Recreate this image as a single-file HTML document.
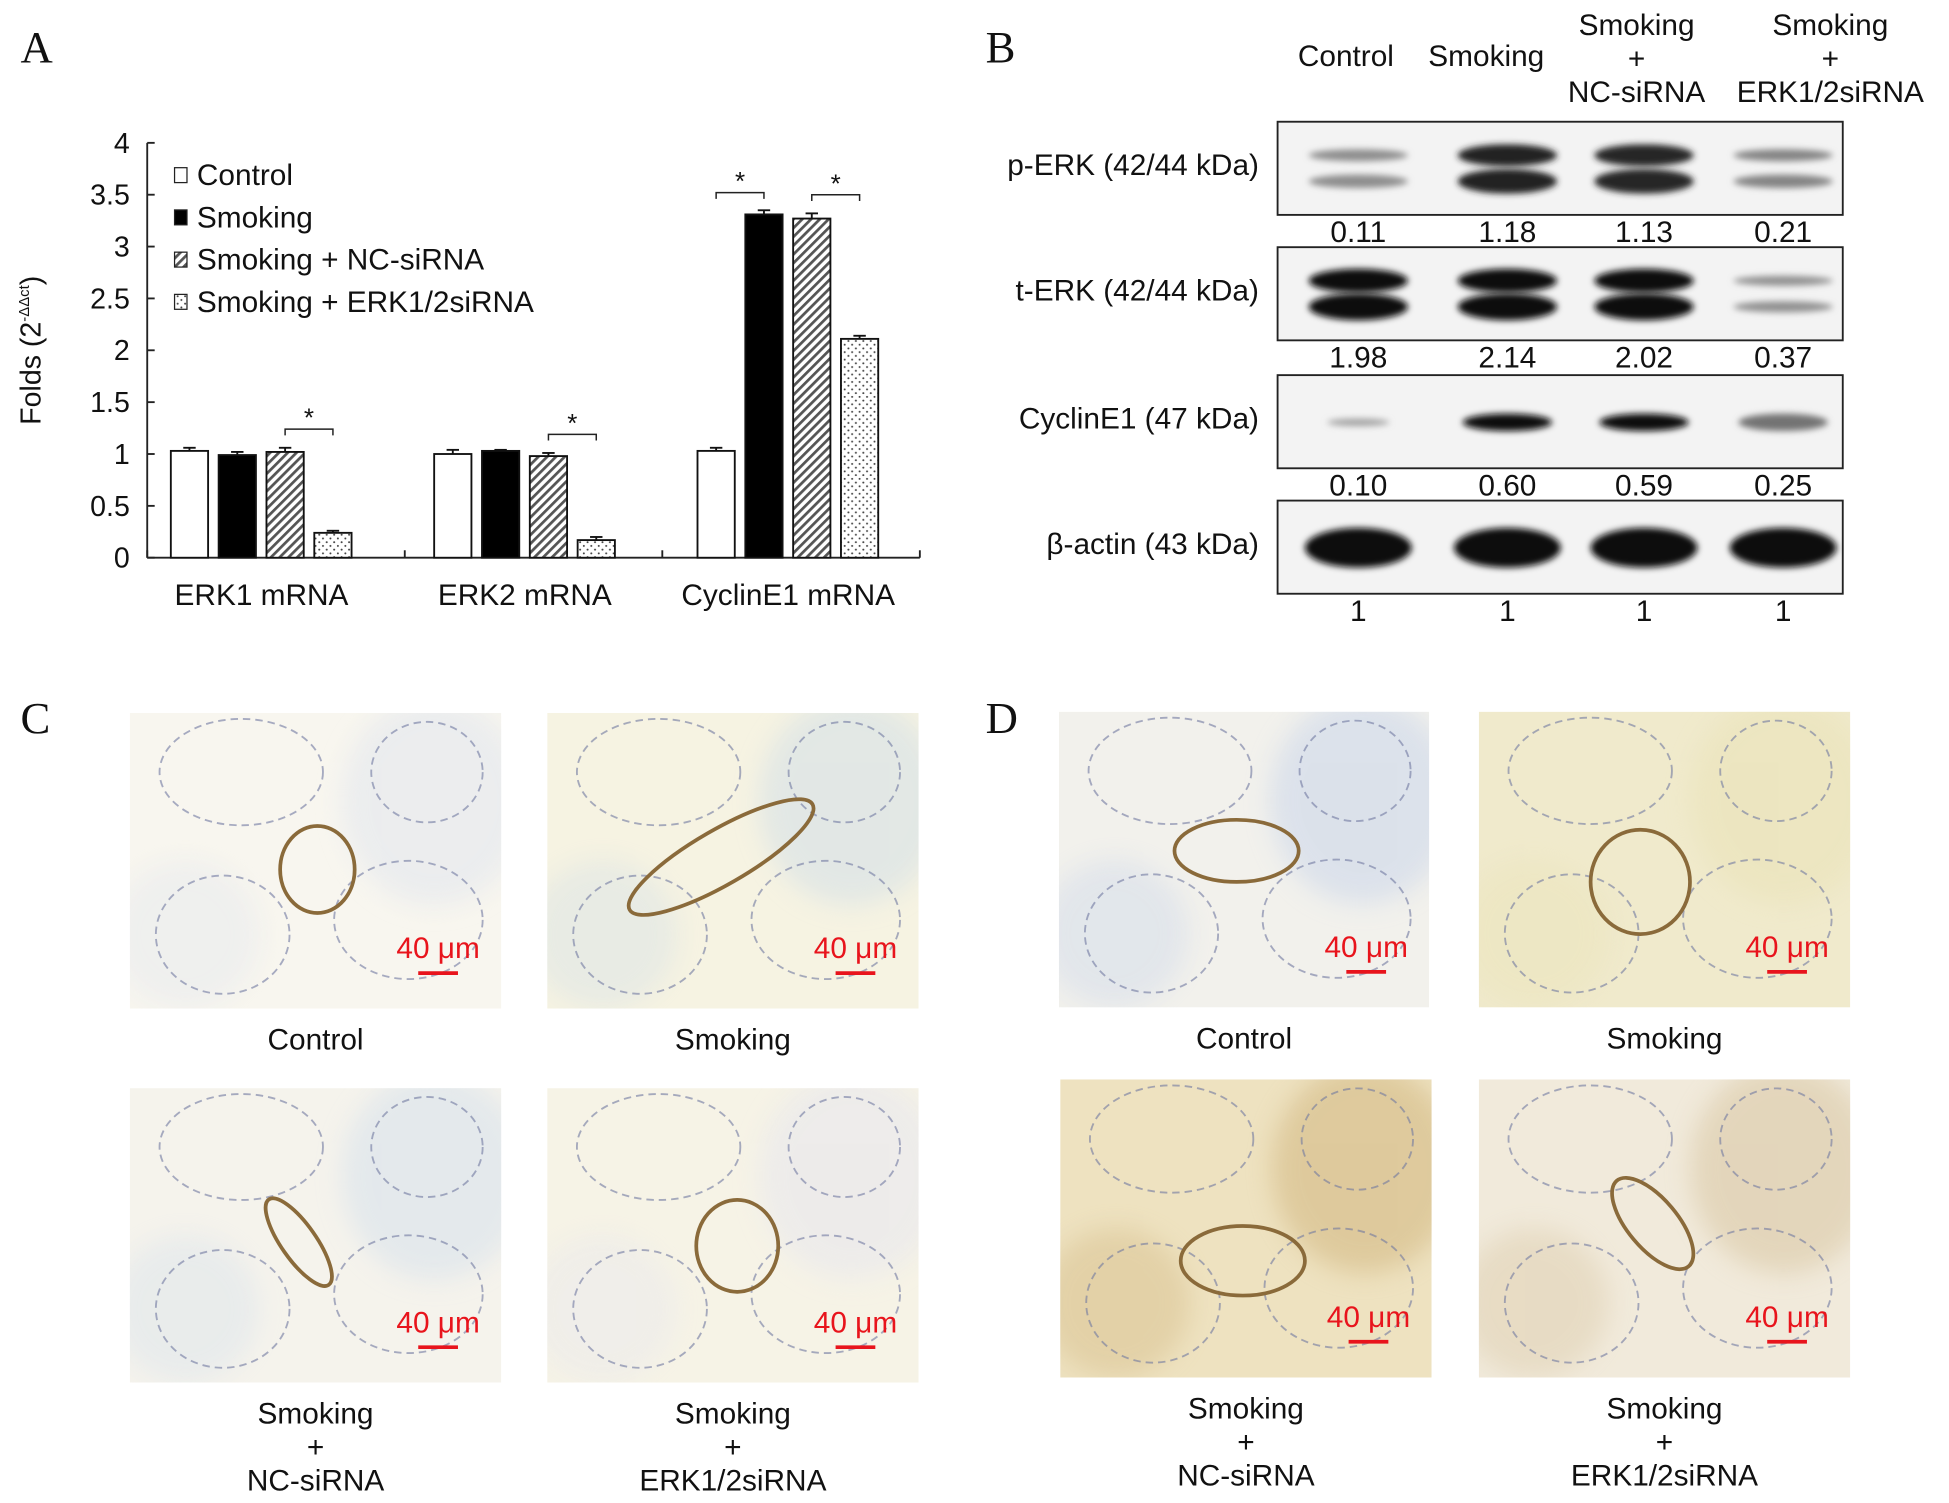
<!DOCTYPE html>
<html><head><meta charset="utf-8"><style>
html,body{margin:0;padding:0;background:#fff}
svg{display:block}
text{font-family:"Liberation Sans",Arial,sans-serif;fill:#111}
.serif{font-family:"Liberation Serif",serif}
</style></head><body>
<svg id="fig" width="1949" height="1503" viewBox="0 0 1568 1210" xmlns="http://www.w3.org/2000/svg">
<defs>
<pattern id="hatch" patternUnits="userSpaceOnUse" width="5" height="5" patternTransform="rotate(45)"><rect width="5" height="5" fill="#fff"/><rect width="2.2" height="5" fill="#555"/></pattern>
<pattern id="dots" patternUnits="userSpaceOnUse" width="6" height="6"><rect width="6" height="6" fill="#fff"/><circle cx="1.5" cy="1.5" r="0.8" fill="#444"/><circle cx="4.5" cy="4.5" r="0.8" fill="#444"/></pattern>
<filter id="blur" x="-20%" y="-50%" width="140%" height="200%"><feGaussianBlur stdDeviation="10"/></filter>
<filter id="blur2" x="-20%" y="-80%" width="140%" height="260%"><feGaussianBlur stdDeviation="2.5"/></filter>
</defs>
<text class="serif" x="16" y="50" font-size="36">A</text>
<text class="serif" x="793" y="50" font-size="36">B</text>
<text class="serif" x="16" y="590" font-size="36">C</text>
<text class="serif" x="793" y="590" font-size="36">D</text>
<g id="chartA"></g>
<g id="blotB"></g>
<g id="micro"></g>
</svg>
<script>
const NS='http://www.w3.org/2000/svg';
function mk(tag,attrs,parent,txt){const e=document.createElementNS(NS,tag);for(const k in attrs)e.setAttribute(k,attrs[k]);if(txt!==undefined)e.textContent=txt;parent.appendChild(e);return e;}

// ---- Chart A data ----
const groups=['ERK1 mRNA','ERK2 mRNA','CyclinE1 mRNA'];
const seriesNames=['Control','Smoking','Smoking + NC-siRNA','Smoking + ERK1/2siRNA'];
const controlVals=[1.03,1.00,1.03];
const smokingVals=[0.99,1.03,3.31];
const ncVals=[1.02,0.98,3.27];
const erkVals=[0.24,0.17,2.11];
const errVals=[[0.03,0.04,0.03],[0.03,0.01,0.04],[0.04,0.03,0.05],[0.02,0.03,0.03]];
const yTicks=[0,0.5,1,1.5,2,2.5,3,3.5,4];
const yTickLabels=['0','0.5','1','1.5','2','2.5','3','3.5','4'];

const A=document.getElementById('chartA');
const x0=118,x1=740,yBase=449,yTop=115,ymax=4;
const y=v=>yBase-(v/ymax)*(yBase-yTop);
const gw=(x1-x0)/groups.length;
const bw=30,bg=8.5;
const bx=(g,s)=>x0+19+g*212+s*(bw+bg);
const fills=['#fff','#000','url(#hatch)','url(#dots)'];
const allVals=[controlVals,smokingVals,ncVals,erkVals];
mk('line',{x1:x0,y1:yTop,x2:x0,y2:yBase,stroke:'#222','stroke-width':1.5},A);
mk('line',{x1:x0,y1:yBase,x2:x1,y2:yBase,stroke:'#222','stroke-width':1.5},A);
yTicks.forEach((t,i)=>{
  mk('line',{x1:x0,y1:y(t),x2:x0+6,y2:y(t),stroke:'#222','stroke-width':1.5},A);
  const tl=mk('text',{x:x0-14,y:y(t)+8,'font-size':23,'text-anchor':'end'},A,yTickLabels[i]);
  
  
});
for(let g=0;g<=groups.length;g++){mk('line',{x1:x0+g*gw,y1:yBase,x2:x0+g*gw,y2:yBase-6,stroke:'#222','stroke-width':1.5},A);}
groups.forEach((n,g)=>{
  const t=mk('text',{x:bx(g,0)+73,y:487,'font-size':24,'text-anchor':'middle'},A,n);
  
  
});
const yt=mk('text',{transform:'translate(32,282) rotate(-90)','font-size':23,'text-anchor':'middle'},A);


yt.innerHTML='Folds (2<tspan font-size="12" dy="-9">-ΔΔct</tspan><tspan dy="9">)</tspan>';
allVals.forEach((vals,s)=>{
  vals.forEach((v,g)=>{
    const X=bx(g,s),top=y(v),e=errVals[s][g];
    const r=mk('rect',{x:X,y:top,width:bw,height:yBase-top,fill:fills[s],stroke:'#111','stroke-width':1.5},A);
    
    
    const ey=y(v+e);
    mk('line',{x1:X+bw/2,y1:top,x2:X+bw/2,y2:ey,stroke:'#111','stroke-width':1.5},A);
    mk('line',{x1:X+bw/2-5,y1:ey,x2:X+bw/2+5,y2:ey,stroke:'#111','stroke-width':1.5},A);
  });
});
const sigPairs=[[0,2,3],[1,2,3],[2,0,1],[2,2,3]];
sigPairs.forEach(p=>{
  const g=p[0];const xa=bx(g,p[1])+bw/2,xb=bx(g,p[2])+bw/2;
  const vmax=Math.max(allVals[p[1]][g],allVals[p[2]][g])+errVals[p[1]][g];
  const yy=y(vmax)-15;
  mk('path',{d:`M${xa},${yy+5}V${yy}H${xb}V${yy+5}`,fill:'none',stroke:'#222','stroke-width':1.2},A);
  mk('text',{x:(xa+xb)/2,y:yy-2,'font-size':21,'text-anchor':'middle'},A,'*');
});
seriesNames.forEach((n,s)=>{
  const ly=149+s*34;
  const sw=mk('rect',{x:140,y:ly-14,width:10,height:12,fill:fills[s],stroke:'#222','stroke-width':1},A);
  
  
  const t=mk('text',{x:158,y:ly,'font-size':24},A,n);
  
  
});

// ---- Blot B data ----
const laneNames=[['Control'],['Smoking'],['Smoking','+','NC-siRNA'],['Smoking','+','ERK1/2siRNA']];
const blotLabels=['p-ERK (42/44 kDa)','t-ERK (42/44 kDa)','CyclinE1 (47 kDa)','β-actin (43 kDa)'];
const pErk=['0.11','1.18','1.13','0.21'];
const tErk=['1.98','2.14','2.02','0.37'];
const cyc=['0.10','0.60','0.59','0.25'];
const actin=['1','1','1','1'];
const quantRows=[pErk,tErk,cyc,actin];
const bandDouble=[true,true,false,false];
const B=document.getElementById('blotB');
const laneX=[1093,1213,1323,1435];
const headerX=[1083,1196,1317,1473];
const boxTop=[98,199,302,403];
laneNames.forEach((ln,i)=>{
  ln.forEach((s,j)=>{
    const yy= ln.length===1?53:(28+j*27);
    const t=mk('text',{x:headerX[i],y:yy,'font-size':24,'text-anchor':'middle'},B,s);
    
    
  });
});
blotLabels.forEach((lab,r)=>{
  const t0=boxTop[r];
  const bx0=mk('rect',{x:1028,y:t0,width:455,height:75,fill:'#f3f3f3',stroke:'#222','stroke-width':1.5},B);
  
  
  const t=mk('text',{x:1013,y:t0+43,'font-size':24,'text-anchor':'end'},B,lab);
  
  
  quantRows[r].forEach((q,i)=>{
    const v=parseFloat(q);
    let dark;
    if(r===0)dark=Math.min(0.9,0.4+v*0.4);
    else if(r===1)dark=Math.min(0.95,0.3+v*0.35);
    else if(r===2)dark=Math.min(0.95,0.25+v*1.2);
    else dark=0.95;
    const c=Math.round(255*(1-dark));
    const col=`rgb(${c},${c},${c})`;
    const w= r===3?86:(r===2?(v<0.2?50:72):80);
    if(bandDouble[r]){
      const h= r===1? (v>1?12:5):(v>1?11:6);
      mk('ellipse',{cx:laneX[i],cy:t0+27,rx:w/2,ry:h*0.8,fill:col,filter:'url(#blur2)'},B);
      mk('ellipse',{cx:laneX[i],cy:t0+48,rx:w/2,ry:h*0.9,fill:col,filter:'url(#blur2)'},B);
    } else {
      const h= r===3?16:(v<0.2?3:7);
      mk('ellipse',{cx:laneX[i],cy:t0+38,rx:w/2,ry:h,fill:col,filter:'url(#blur2)'},B);
    }
    const qt=mk('text',{x:laneX[i],y:t0+97,'font-size':24,'text-anchor':'middle'},B,q);
    
    
  });
});

// ---- Micrographs ----
const M=document.getElementById('micro');
const defs=document.querySelector('defs');
const panels=[
 {x:104,y:574,w:299,h:238,bg:'#f8f6ef',tint:'#dfe4ee',cap:['Control'],ves:[255,700,30,35,0]},
 {x:440,y:574,w:299,h:238,bg:'#f6f3e2',tint:'#cfdde8',cap:['Smoking'],ves:[580,690,85,22,-30]},
 {x:104,y:876,w:299,h:237,bg:'#f5f3ec',tint:'#d3dfec',cap:['Smoking','+','NC-siRNA'],ves:[240,1000,14,42,-35]},
 {x:440,y:876,w:299,h:237,bg:'#f6f3e6',tint:'#e5e5ef',cap:['Smoking','+','ERK1/2siRNA'],ves:[593,1003,33,37,0]},
 {x:852,y:573,w:298,h:238,bg:'#f2f1ec',tint:'#c6d3ea',cap:['Control'],ves:[995,685,50,25,0]},
 {x:1190,y:573,w:299,h:238,bg:'#f0eacc',tint:'#e9e2b6',cap:['Smoking'],ves:[1320,710,40,42,0]},
 {x:853,y:869,w:299,h:240,bg:'#eee2c0',tint:'#cfb27a',cap:['Smoking','+','NC-siRNA'],ves:[1000,1015,50,28,0]},
 {x:1190,y:869,w:299,h:240,bg:'#f1eadb',tint:'#d6c29c',cap:['Smoking','+','ERK1/2siRNA'],ves:[1330,985,20,45,-40]}
];
panels.forEach((p,k)=>{
  const cp=mk('clipPath',{id:'clip'+k},defs);
  mk('rect',{x:p.x,y:p.y,width:p.w,height:p.h},cp);
  const g=mk('g',{'clip-path':'url(#clip'+k+')'},M);
  
  
  mk('rect',{x:p.x,y:p.y,width:p.w,height:p.h,fill:p.bg},g);
  mk('ellipse',{cx:p.x+p.w*0.82,cy:p.y+p.h*0.3,rx:p.w*0.25,ry:p.h*0.35,fill:p.tint,opacity:0.5,filter:'url(#blur)'},g);
  mk('ellipse',{cx:p.x+p.w*0.15,cy:p.y+p.h*0.75,rx:p.w*0.2,ry:p.h*0.25,fill:p.tint,opacity:0.35,filter:'url(#blur)'},g);
  [[0.3,0.2,0.22,0.18],[0.75,0.7,0.2,0.2],[0.25,0.75,0.18,0.2],[0.8,0.2,0.15,0.17]].forEach(a=>{
    mk('ellipse',{cx:p.x+p.w*a[0],cy:p.y+p.h*a[1],rx:p.w*a[2],ry:p.h*a[3],fill:'none',stroke:'#6f78a0','stroke-width':1.5,'stroke-dasharray':'6 4',opacity:0.6},g);
  });
  const v=p.ves;
  mk('ellipse',{cx:v[0],cy:v[1],rx:v[2],ry:v[3],transform:`rotate(${v[4]} ${v[0]} ${v[1]})`,fill:'none',stroke:'#8a6a3a','stroke-width':3},g);
  const barX=p.x+p.w*0.83, barY=p.y+p.h*0.88;
  const st=mk('text',{x:barX,y:barY-12,'font-size':24,'text-anchor':'middle',style:'fill:#e8141c'},g,'40 μm');
  
  
  mk('line',{x1:barX-16,y1:barY,x2:barX+16,y2:barY,stroke:'#e8141c','stroke-width':3},g);
  const cx=p.x+p.w/2;
  p.cap.forEach((c,j)=>{
    const t=mk('text',{x:cx,y:(p.cap.length===1?p.y+p.h+33:p.y+p.h+33+j*27),'font-size':24,'text-anchor':'middle'},M,c);
    
    
  });
});
</script>
</body></html>
